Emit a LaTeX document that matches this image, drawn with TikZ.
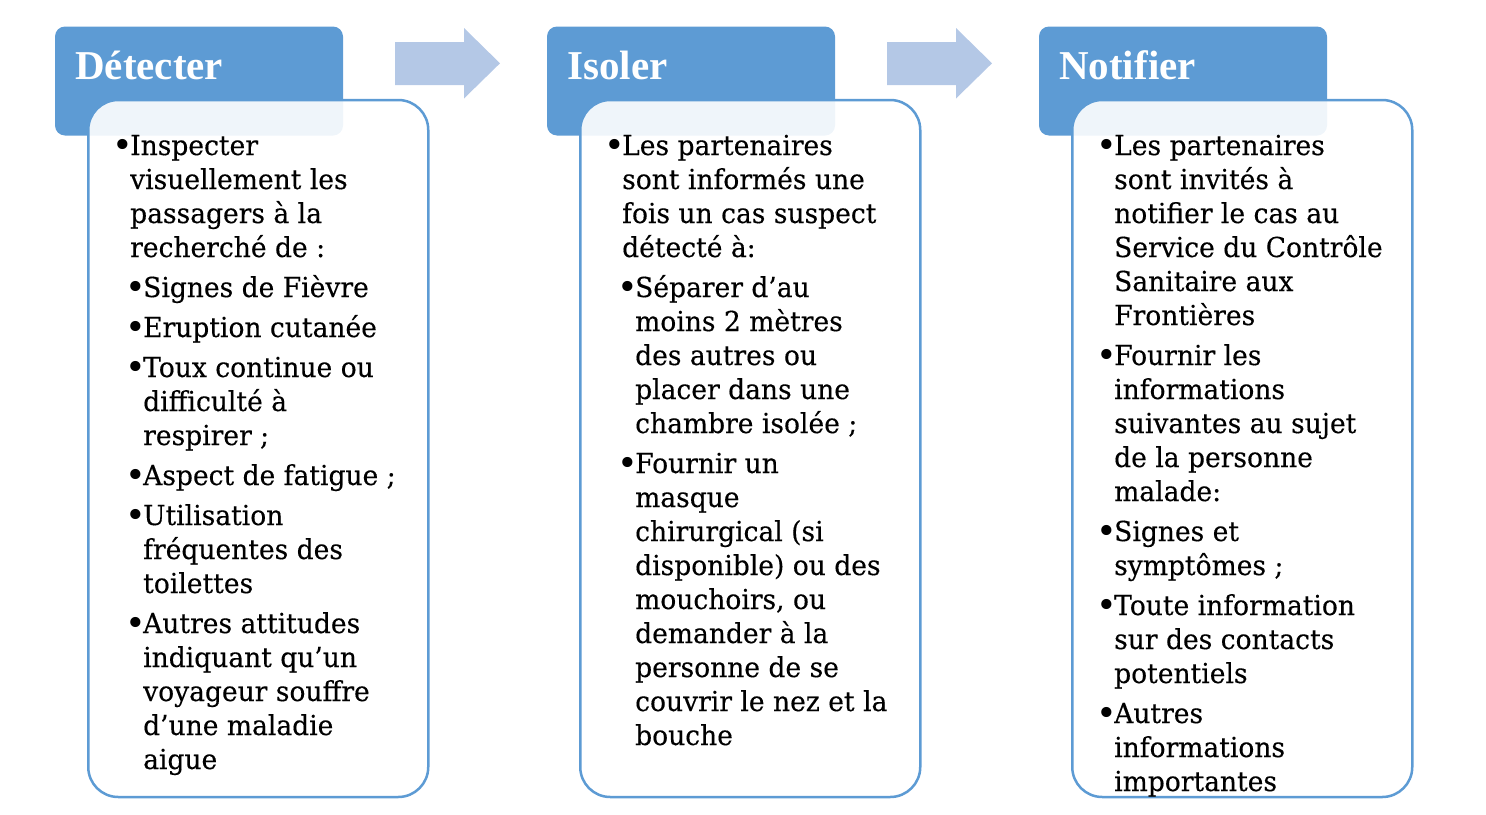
\documentclass[tikz,border=0pt]{standalone}
\usepackage{fontspec}
\setmainfont[FakeStretch=0.965,FakeBold=0.3]{DejaVu Serif}
\newfontfamily\bulletfont{DejaVu Serif}
\newfontfamily\headfont{Liberation Serif}
\definecolor{hdrblue}{HTML}{5D9BD4}
\definecolor{arrblue}{HTML}{B4C8E6}
\newcommand\bul{{\bulletfont\fontsize{35pt}{34pt}\selectfont\raisebox{-2pt}{•}}}
\newcommand\itemA{\par\hangindent=17pt\hangafter=1\noindent\makebox[17pt][l]{\hspace*{-1pt}\bul}}
\newcommand\itemB{\par\hangindent=30pt\hangafter=1\noindent\hspace*{13pt}\makebox[17pt][l]{\hspace*{-1pt}\bul}}
\newcommand\boxtext[1]{\parbox[t]{360pt}{\fontsize{27.5pt}{34pt}\selectfont\parindent=0pt\parskip=6pt #1}}
\tikzset{
  hdr/.style={rectangle, rounded corners=10pt, fill=hdrblue, draw=none, minimum width=288pt, minimum height=109pt, inner sep=0pt},
  bodybox/.style={rectangle, rounded corners=30pt, draw=hdrblue, line width=2.5pt, fill=white, fill opacity=0.9, minimum width=340pt, minimum height=697pt, inner sep=0pt},
  hdrtext/.style={anchor=base west, inner sep=0pt, text=white, font=\headfont\bfseries\fontsize{41pt}{41pt}\selectfont},
  bodytext/.style={anchor=base west, inner sep=0pt, text=black},
  blockarrow/.style={fill=arrblue, draw=none}
}
\begin{document}
\begin{tikzpicture}[x=1pt, y=-1pt]
\useasboundingbox (0,0) rectangle (1486,814);
% headers
\node[hdr] (h1) at (199,81) {};
\node[hdr] (h2) at (691,81) {};
\node[hdr] (h3) at (1183,81) {};
% arrows
\fill[blockarrow] (395,42) -- (464,42) -- (464,28) -- (500,63.3) -- (464,98.5) -- (464,85) -- (395,85) -- cycle;
\fill[blockarrow] (887,42) -- (956,42) -- (956,28) -- (992,63.3) -- (956,98.5) -- (956,85) -- (887,85) -- cycle;
% bodies
\node[bodybox] (b1) at (258.25,448.5) {};
\node[bodybox] (b2) at (750.25,448.5) {};
\node[bodybox] (b3) at (1242.25,448.5) {};
% header texts
\node[hdrtext] (t1) at (75,79) {Détecter};
\node[hdrtext] (t2) at (567,79) {Isoler};
\node[hdrtext] (t3) at (1059,79) {Notifier};
% body texts
\node[bodytext] (x1) at (113,155) {\boxtext{%
\itemA Inspecter\\visuellement les\\passagers à la\\recherché de :
\itemB Signes de Fièvre
\itemB Eruption cutanée
\itemB Toux continue ou\\difficulté à\\respirer ;
\itemB Aspect de fatigue ;
\itemB Utilisation\\fréquentes des\\toilettes
\itemB Autres attitudes\\indiquant qu’un\\voyageur souffre\\d’une maladie\\aigue}};
\node[bodytext] (x2) at (605,155) {\boxtext{%
\itemA Les partenaires\\sont informés une\\fois un cas suspect\\détecté à:
\itemB Séparer d’au\\moins 2 mètres\\des autres ou\\placer dans une\\chambre isolée ;
\itemB Fournir un\\masque\\chirurgical (si\\disponible) ou des\\mouchoirs, ou\\demander à la\\personne de se\\couvrir le nez et la\\bouche}};
\node[bodytext] (x3) at (1097,155) {\boxtext{%
\itemA Les partenaires\\sont invités à\\notifier le cas au\\Service du Contrôle\\Sanitaire aux\\Frontières
\itemA Fournir les\\informations\\suivantes au sujet\\de la personne\\malade:
\itemA Signes et\\symptômes ;
\itemA Toute information\\sur des contacts\\potentiels
\itemA Autres\\informations\\importantes}};
\end{tikzpicture}
\end{document}
